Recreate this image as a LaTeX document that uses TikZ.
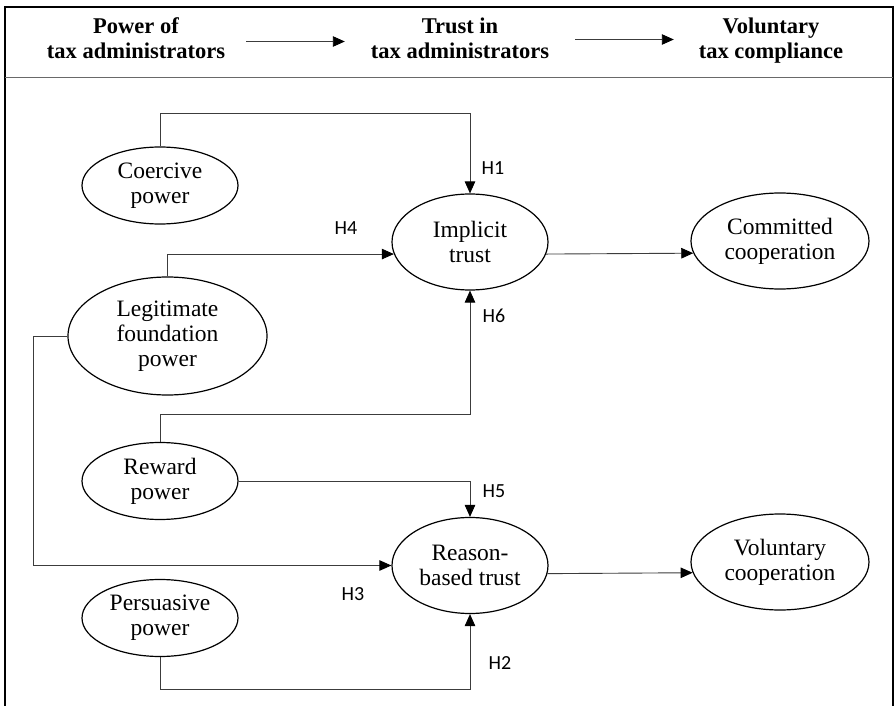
\documentclass[tikz,border=0pt]{standalone}
\usepackage{fontspec}
\setmainfont{Liberation Serif}
\newfontfamily\hypfont{Carlito}
\usetikzlibrary{arrows.meta,shapes.geometric}
\definecolor{linkgray}{RGB}{60,60,60}
\definecolor{framegray}{RGB}{105,105,105}

\begin{document}
\begin{tikzpicture}[x=1pt,y=-1pt,>={Triangle[length=12pt,width=10.5pt,color=black]},
    construct/.style={draw,ellipse,line width=1.2pt,inner sep=0pt,align=center,
      font=\fontsize{23.5}{25}\selectfont},
    powerc/.style={construct,minimum width=156pt,minimum height=77pt},
    trustc/.style={construct,minimum width=156pt,minimum height=96pt},
    coopc/.style={construct,minimum width=178pt,minimum height=96pt},
    heading/.style={inner sep=0pt,align=center,font=\fontsize{22.5}{25}\selectfont\bfseries},
    link/.style={draw=linkgray,line width=.9pt},
    hyp/.style={font=\hypfont\fontsize{20}{22}\selectfont}]
  \useasboundingbox (0,0) rectangle (895,706);
  \fill[white] (0,0) rectangle (895,706);
  \draw[line width=1.7pt] (5,706) -- (5,7) -- (893,7) -- (893,706);
  \draw[framegray,line width=.9pt] (5,77) -- (893,77);

  \node[heading,minimum width=220pt] (hpower) at (136,38.5) {Power of\\tax administrators};
  \node[heading,minimum width=230pt] (htrust) at (460,38.5) {Trust in\\tax administrators};
  \node[heading,minimum width=194pt] (hcomply) at (771,40.5) {Voluntary\\tax compliance};
  \draw[link,->] ([yshift=-3pt]hpower.east) -- ([yshift=-3pt]hpower.east -| htrust.west);
  \draw[link,->] ([yshift=-1pt]htrust.east) -- ([yshift=-1pt]htrust.east -| hcomply.west);

  \node[powerc] (coercive) at (160,185.5) {Coercive\\power};
  \node[construct,minimum width=199pt,minimum height=118pt] (legit) at (167.5,336)
    {Legitimate\\foundation\\power};
  \node[powerc] (reward) at (160,481) {Reward\\power};
  \node[powerc] (persuasive) at (160,618) {Persuasive\\power};
  \node[trustc] (implicit) at (470,242) {Implicit\\trust};
  \node[trustc] (reason) at (470,565.5) {Reason-\\based trust};
  \node[coopc] (committed) at (780,241) {Committed\\cooperation};
  \node[coopc] (voluntary) at (780,562) {Voluntary\\cooperation};

  \coordinate (h1bend) at (160,113);
  \coordinate (h3bend) at (33,336);
  \coordinate (h6bend) at (160,414);
  \coordinate (h2bend) at (160,689);

  \draw[link,->] (coercive.north) -- (h1bend) -| (implicit.north);
  \draw[link,->] (legit.north) |- (implicit.189);
  \draw[link,->] (reward.north) -- (h6bend) -| (implicit.south);
  \draw[link,->] (reward.east) -| (reason.north);
  \draw[link,->] (legit.west) -- (h3bend) |- (reason.west);
  \draw[link,->] (persuasive.south) -- (h2bend) -| (reason.south);
  \draw[link,->] (implicit.351) -- (committed.188.6);
  \draw[link,->] (reason.354.4) -- (voluntary.187.2);

  \node[hyp] (h1) at (493,168) {H1};
  \node[hyp] (h4) at (346,228) {H4};
  \node[hyp] (h6) at (494,316) {H6};
  \node[hyp] (h5) at (494,491) {H5};
  \node[hyp] (h3) at (353,594) {H3};
  \node[hyp] (h2) at (500,663) {H2};
\end{tikzpicture}
\end{document}
